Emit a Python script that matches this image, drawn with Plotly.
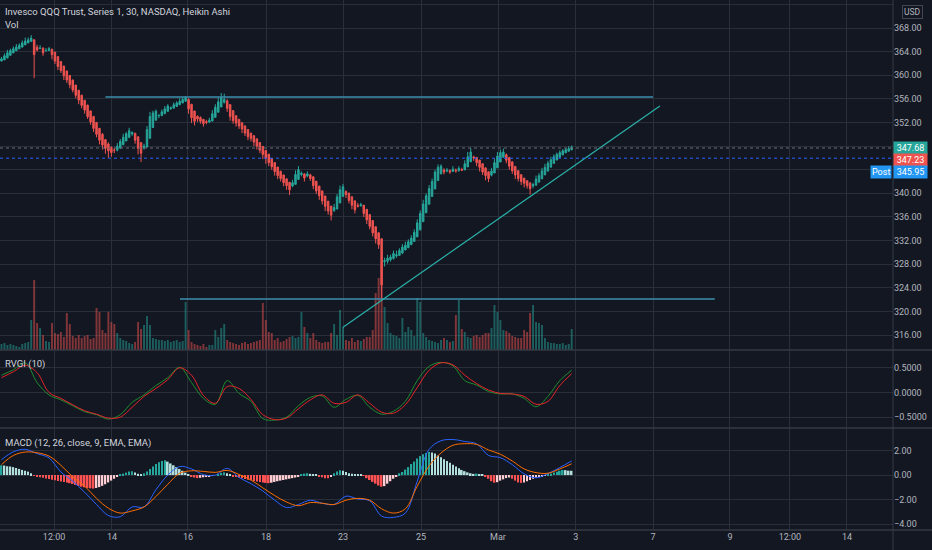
import plotly.graph_objects as go

# QQQ 30 min Heikin Ashi candles, one entry per bar (bar index 0..192)
ha_close = [
    362.8, 363.3, 363.8, 364.2, 364.5, 364.8, 365.1, 365.5, 365.8, 366.0, 366.3,
    363.5,
    364.3, 364.6, 363.8, 364.2, 364.5,
    363.5, 362.4, 361.5, 360.8, 359.9, 359.2, 358.4, 357.5, 356.6, 355.8, 354.9, 354.1, 353.0, 352.1, 351.0, 350.0, 349.0,
    348.2, 347.6, 347.2, 346.9, 347.3,
    348.0, 348.8, 349.5, 350.1, 350.6, 350.3,
    349.0, 347.6, 346.8,
    348.0, 350.8, 353.0,
    353.6, 353.9, 353.2, 353.8, 354.3, 354.8, 354.5, 355.0, 355.3, 355.6, 355.9, 356.2,
    354.3, 352.8, 352.2, 352.6,
    352.2, 351.8, 352.0, 352.4,
    353.5, 354.6, 355.5, 356.2, 355.9,
    354.4, 353.0, 352.3, 351.9, 351.4, 350.9,
    350.2, 349.6, 349.3, 348.7, 348.0, 347.3, 346.6, 346.0,
    345.2, 344.5, 343.7, 343.0, 342.5, 341.8, 341.3, 340.6,
    341.8, 343.2, 344.0,
    343.4, 342.6, 343.3, 342.5,
    341.3, 340.4, 339.6, 338.7, 337.8, 337.0, 336.3,
    337.6, 339.4, 340.6, 341.1,
    339.8, 338.8, 338.0, 337.2,
    337.8, 338.1,
    336.6, 335.5, 334.4, 333.3, 332.3, 331.3,
    324.5,
    328.6, 329.0, 329.2, 329.8, 329.6, 330.3, 330.9, 331.2, 331.8, 332.4,
    333.4, 335.0, 336.6, 338.2, 339.6, 340.8, 342.0,
    343.6, 344.4, 344.6,
    343.6, 343.9, 343.6, 344.1, 343.8, 344.2, 343.9,
    345.0, 346.2, 347.0,
    346.0, 345.2, 344.4, 343.6, 343.0, 342.5,
    343.8, 345.2, 346.3, 346.9, 347.0,
    345.6, 344.6, 343.8, 343.1, 342.5, 342.0, 341.7, 341.3,
    340.8, 341.5,
    342.4, 343.0, 343.8, 344.4, 345.1, 345.7, 346.2,
    346.6, 346.9, 347.2, 347.4, 347.6, 347.8,
]
first_open = 362.4

wick_up = [
    0.3, 0.4, 0.5, 0.3, 0.4, 0.5, 0.3, 0.4, 0.6, 0.4, 0.5,
    0.0,
    0.4, 0.5, 0.2, 0.4, 0.3,
    0.2, 0, 0, 0.1, 0, 0, 0, 0.1, 0, 0, 0, 0, 0.1, 0, 0, 0, 0,
    0.2, 0.1, 0.3, 0.2, 0.4,
    0.5, 0.4, 0.6, 0.3, 0.5, 0.2,
    0.1, 0, 0,
    0.4, 0.6, 0.8,
    0.4, 0.3, 0.2, 0.4, 0.5, 0.3, 0.2, 0.4, 0.3, 0.5, 0.4, 0.3,
    0.2, 0, 0, 0.1,
    0.2, 0.1, 0.3, 0.4,
    0.6, 0.5, 0.7, 0.8, 1.0,
    0.3, 0, 0, 0, 0.1, 0,
    0, 0, 0, 0.1, 0, 0, 0, 0,
    0, 0, 0, 0, 0.1, 0, 0, 0,
    0.5, 0.7, 0.6,
    0.3, 0.1, 0.4, 0.2,
    0, 0, 0, 0, 0, 0, 0,
    0.6, 0.5, 0.7, 0.5,
    0.2, 0, 0, 0.1,
    0.4, 0.3,
    0, 0, 0, 0, 0, 0,
    0,
    0.5, 0.6, 0.4, 0.5, 0.7, 0.4, 0.5, 0.6, 0.4, 0.5,
    0.5, 0.6, 0.5, 0.7, 0.4, 0.6, 0.5,
    0.4, 0.5, 0.3,
    0.3, 0.4, 0.2, 0.5, 0.3, 0.4, 0.3,
    0.6, 0.8, 0.7,
    0.2, 0, 0, 0, 0.1, 0,
    0.5, 0.6, 0.7, 0.5, 0.6,
    0.2, 0, 0, 0, 0, 0, 0, 0,
    0.2, 0.3,
    0.6, 0.4, 0.5, 0.6, 0.4, 0.5, 0.4,
    0.3, 0.4, 0.3, 0.3, 0.4, 0.3,
]
wick_dn = [
    0, 0, 0.1, 0, 0, 0, 0, 0.1, 0, 0, 0,
    4.0,
    0.3, 0.1, 0.5, 0.2, 0.1,
    0.8, 0.5, 0.6, 0.4, 0.7, 0.5, 0.6, 0.4, 0.5, 0.7, 0.5, 0.6, 0.4, 0.5, 0.6, 0.5, 0.7,
    0.8, 0.9, 1.2, 0.7, 0.5,
    0.2, 0.1, 0, 0, 0.1, 0.3,
    0.6, 1.0, 1.5,
    0.3, 0.1, 0,
    0.1, 0, 0.4, 0.1, 0, 0, 0.2, 0, 0, 0, 0, 0.1,
    0.8, 0.9, 0.7, 0.5,
    0.4, 0.5, 0.3, 0.2,
    0, 0, 0, 0, 0.2,
    0.6, 0.7, 0.5, 0.6, 0.5, 0.7,
    0.5, 0.6, 0.5, 0.7, 0.6, 0.5, 0.8, 1.0,
    0.6, 0.5, 0.7, 0.6, 0.5, 0.6, 0.7, 0.9,
    0.2, 0, 0,
    0.3, 0.6, 0.2, 0.4,
    0.6, 0.5, 0.7, 0.6, 0.8, 0.6, 0.9,
    0.2, 0, 0, 0,
    0.6, 0.5, 0.7, 0.6,
    0.2, 0.1,
    0.6, 0.7, 0.5, 0.6, 0.8, 0.7,
    2.7,
    0.8, 0.4, 0.3, 0.2, 0.3, 0.1, 0.2, 0, 0.1, 0,
    0, 0, 0.1, 0, 0, 0, 0,
    0, 0.1, 0,
    0.4, 0.2, 0.3, 0.1, 0.3, 0.2, 0.1,
    0, 0, 0,
    0.5, 0.6, 0.7, 0.5, 0.8, 0.6,
    0.2, 0, 0, 0, 0,
    0.5, 0.6, 0.5, 0.7, 0.5, 0.6, 0.7, 0.5,
    1.0, 0.4,
    0.1, 0, 0, 0, 0, 0, 0,
    0, 0, 0, 0, 0, 0,
]

# volume in millions of shares
volume = [
    0.6, 0.7, 0.5, 0.6, 0.5, 0.4, 0.3, 0.6, 0.7, 0.8, 3.0, 7.0, 2.7, 2.2, 1.5, 0.9, 0.8,
    2.7, 1.7, 1.6, 1.8, 1.3, 3.7, 2.6, 1.4, 1.2, 1.5, 1.2, 1.4, 1.5, 1.1, 1.2, 4.2, 3.8,
    2.0, 1.7, 3.8, 2.8, 2.6, 1.7, 1.2, 1.0, 0.9, 0.7, 0.6, 0.8, 2.8, 2.1, 2.5, 3.4, 2.5,
    1.2, 1.1, 1.0, 1.0, 0.9, 1.0, 0.8, 0.9, 1.0, 0.8, 0.9, 4.8, 2.0, 0.8, 0.6, 0.5, 0.4, 0.6, 0.3, 0.5,
    0.5, 2.0, 1.3, 2.2, 2.6, 1.0, 0.8, 0.7, 0.6, 0.5, 0.7, 0.8, 0.6, 0.7, 0.8, 0.9, 1.0, 4.7, 3.0,
    1.8, 1.7, 1.0, 1.2, 0.8, 0.9, 1.1, 1.3, 1.4, 1.2, 1.3, 3.8, 2.3, 1.7, 1.2,
    1.7, 1.0, 0.8, 0.7, 0.8, 0.8, 1.7, 2.6, 1.5, 4.0, 2.3, 1.0, 0.9, 1.2, 0.8, 1.0, 0.9,
    1.1, 1.3, 1.3, 2.0, 5.7, 7.2, 8.5, 4.3, 2.7, 1.7, 1.5, 1.4, 1.2, 3.2, 1.8, 2.3, 2.0,
    1.4, 5.2, 4.8, 1.7, 1.3, 1.0, 0.9, 0.8, 0.7, 1.0, 1.2, 1.0, 0.8, 0.9, 3.5, 5.0, 2.1,
    1.8, 1.3, 1.2, 1.4, 1.5, 1.3, 1.5, 1.7, 1.7, 2.2, 4.5, 3.8, 3.0, 2.0,
    1.9, 1.7, 1.4, 1.3, 1.2, 1.2, 2.0, 1.8, 3.7, 4.5, 2.8, 2.7, 2.5, 1.2, 0.8, 0.7, 0.7,
    0.6, 0.6, 0.7, 0.5, 0.6, 2.1,
]

macd_hist = [
    0.8, 0.78, 0.72, 0.7, 0.65, 0.58, 0.5, 0.42, 0.35, 0.28, 0.15, -0.05,
    -0.12, -0.18, -0.22, -0.28, -0.32, -0.38, -0.42, -0.48, -0.52, -0.56, -0.6, -0.66, -0.72, -0.8,
    -0.88, -0.95, -1.0, -1.05, -1.08, -1.1,
    -1.05, -0.98, -0.88, -0.75, -0.6, -0.45, -0.3, -0.12,
    0.05, 0.12, 0.2, 0.3, 0.32, 0.2, 0.1, 0.08, 0.15, 0.3,
    0.5, 0.7, 0.9, 1.05, 1.15, 1.2,
    1.1, 0.95, 0.8, 0.65, 0.5, 0.35, 0.2,
    0.08, -0.1, -0.2, -0.25, -0.22, -0.18, -0.12, -0.08, -0.05, 0.0,
    0.1, 0.18, 0.22, 0.15, 0.05,
    -0.08, -0.15, -0.2, -0.26, -0.32, -0.38, -0.42, -0.48, -0.52, -0.56, -0.6, -0.64, -0.66, -0.62,
    -0.56, -0.5, -0.45, -0.4, -0.35, -0.3, -0.25, -0.2,
    -0.1, 0.05, 0.12, 0.15, 0.1, 0.05, 0.02,
    -0.1, -0.18, -0.25, -0.25, -0.15,
    0.15, 0.3, 0.4, 0.35, 0.25, 0.15,
    0.1, 0.08, 0.05, 0.02, -0.05,
    -0.25, -0.4, -0.55, -0.7, -0.85, -0.95, -0.9,
    -0.7, -0.5, -0.3, -0.1,
    0.15, 0.25, 0.45, 0.65, 0.9, 1.1, 1.35, 1.55, 1.7, 1.8, 1.88,
    1.85, 1.75, 1.6, 1.45, 1.3, 1.15, 1.0, 0.85, 0.7, 0.55, 0.42, 0.32, 0.22, 0.15,
    0.1, 0.12, 0.08, 0.02, -0.1,
    -0.3, -0.5, -0.62, -0.58, -0.45, -0.35,
    -0.25, -0.2, -0.3, -0.45,
    -0.6, -0.64, -0.6, -0.5, -0.4,
    -0.3, -0.2, -0.12, -0.08, -0.03,
    0.05, 0.12, 0.2, 0.28, 0.36, 0.42, 0.4, 0.36, 0.35,
]

# indicator lines
line_bars = list(range(0, 193, 4))
rvgi = [0.35, 0.46, 0.6, 0.2, -0.05, -0.15, -0.27, -0.39, -0.45, -0.54,
        -0.45, -0.2, -0.05, 0.14, 0.3, 0.51, 0.2, -0.12, -0.24, 0.24,
        -0.02, -0.18, -0.53, -0.56, -0.5, -0.27, -0.1, -0.07, -0.3, -0.14,
        -0.06, -0.3, -0.44, -0.38, -0.18, 0.24, 0.53, 0.61, 0.54, 0.24,
        0.15, 0.02, -0.03, -0.03, -0.12, -0.29, -0.08, 0.24, 0.45]
rvgi_signal = [0.3, 0.42, 0.55, 0.4, 0.0, -0.12, -0.25, -0.37, -0.44, -0.52,
               -0.5, -0.3, -0.08, 0.08, 0.26, 0.5, 0.35, -0.06, -0.22, 0.12,
               0.08, -0.14, -0.45, -0.55, -0.52, -0.33, -0.15, -0.05, -0.22, -0.2,
               -0.05, -0.22, -0.4, -0.42, -0.25, 0.1, 0.45, 0.6, 0.56, 0.35,
               0.18, 0.05, -0.02, -0.03, -0.08, -0.24, -0.18, 0.14, 0.38]
macd = [1.25, 1.9, 2.1, 1.75, 1.4, 0.25, -0.5, -1.4, -2.4, -3.3,
        -3.4, -2.6, -2.6, -1.2, 0.0, 0.7, 0.5, 0.03, 0.0, 0.55,
        -0.2, -0.7, -1.3, -2.05, -2.65, -2.4, -2.05, -2.3, -2.4, -1.72,
        -1.95, -2.1, -3.35, -3.45, -3.1, -0.5, 2.1, 2.8, 2.9, 2.74,
        2.55, 1.6, 1.42, 0.85, 0.1, -0.22, 0.12, 0.62, 1.15]
macd_signal = [0.85, 1.6, 1.88, 1.82, 1.55, 0.8, -0.15, -0.9, -1.9, -2.7,
               -3.1, -2.92, -2.6, -1.75, -0.75, 0.15, 0.35, 0.3, 0.22, 0.38,
               0.05, -0.4, -1.04, -1.67, -2.2, -2.5, -2.24, -2.3, -2.4, -2.05,
               -1.9, -2.05, -2.75, -3.1, -2.75, -0.9, 0.75, 1.8, 2.43, 2.56,
               2.5, 2.05, 1.7, 1.15, 0.5, 0.2, 0.15, 0.5, 0.92]

# drawings
resistance_price = 356.3
resistance_bars = [35, 219.4]
support_price = 322.1
support_bars = [60.1, 240.2]
trend_bars = [115, 221.7]
trend_prices = [317.3, 354.8]

last_price = 347.68
prev_close = 347.23
post_price = 345.95

date_ticks = [17.7, 37.2, 62.8, 89.1, 115.0, 141.3, 167.2, 193.4, 219.4, 245.3, 265.5, 284.7]
date_labels = ["12:00", "14", "16", "18", "23", "25", "Mar", "3", "7", "9", "12:00", "14"]
price_ticks = list(range(316, 373, 4))
hidden_ticks = [344, 348]  # covered by the price tags

assert len(ha_close) == len(wick_up) == len(wick_dn) == len(volume) == len(macd_hist) == 193
assert len(rvgi) == len(rvgi_signal) == len(macd) == len(macd_signal) == len(line_bars)

UP = "#26a69a"
DOWN = "#ef5350"
BG = "#131722"
GRID = "#2a2e39"
SEP = "#363a45"
TEXT = "#b2b5be"
FONT = "Roboto, sans-serif"

bars = list(range(len(ha_close)))
ha_open = [first_open]
for i in range(1, len(ha_close)):
    ha_open.append((ha_open[-1] + ha_close[i - 1]) / 2)
ha_high = [max(o, c) + w for o, c, w in zip(ha_open, ha_close, wick_up)]
ha_low = [min(o, c) - w for o, c, w in zip(ha_open, ha_close, wick_dn)]
vol_colors = ["rgba(38,166,154,0.5)" if c >= o else "rgba(239,83,80,0.5)"
              for o, c in zip(ha_open, ha_close)]

hist_colors = []
prev = 0
for h in macd_hist:
    if h >= 0:
        hist_colors.append("#26a69a" if h > prev else "#b2dfdb")
    else:
        hist_colors.append("#ffcdd2" if h > prev else "#ff5252")
    prev = h

fig = go.Figure()

# volume (base axis, drawn under the candles)
fig.add_trace(go.Bar(x=bars, y=volume, marker=dict(color=vol_colors, line=dict(width=0)),
                     width=0.65, xaxis="x", yaxis="y"))

fig.add_trace(go.Candlestick(
    x=bars, open=ha_open, high=ha_high, low=ha_low, close=ha_close,
    xaxis="x", yaxis="y2", whiskerwidth=0,
    increasing=dict(line=dict(color=UP, width=1), fillcolor=UP),
    decreasing=dict(line=dict(color=DOWN, width=1), fillcolor=DOWN),
))

# drawn lines
fig.add_trace(go.Scatter(x=resistance_bars, y=[resistance_price] * 2, mode="lines",
                         line=dict(color="#3c8fae", width=1.5), xaxis="x", yaxis="y2"))
fig.add_trace(go.Scatter(x=support_bars, y=[support_price] * 2, mode="lines",
                         line=dict(color="#3c8fae", width=1.5), xaxis="x", yaxis="y2"))
fig.add_trace(go.Scatter(x=trend_bars, y=trend_prices, mode="lines",
                         line=dict(color="#2ab0a8", width=1.2), xaxis="x", yaxis="y2"))

# RVGI
fig.add_trace(go.Scatter(x=line_bars, y=rvgi, mode="lines", line=dict(color="#1e8c2e", width=1, shape="spline"),
                         xaxis="x", yaxis="y3"))
fig.add_trace(go.Scatter(x=line_bars, y=rvgi_signal, mode="lines", line=dict(color="#e8242a", width=1, shape="spline"),
                         xaxis="x", yaxis="y3"))

# MACD
fig.add_trace(go.Bar(x=bars, y=macd_hist, marker=dict(color=hist_colors, line=dict(width=0)),
                     width=0.55, xaxis="x", yaxis="y4"))
fig.add_trace(go.Scatter(x=line_bars, y=macd, mode="lines", line=dict(color="#2962ff", width=1, shape="spline"),
                         xaxis="x", yaxis="y4"))
fig.add_trace(go.Scatter(x=line_bars, y=macd_signal, mode="lines", line=dict(color="#ff6d00", width=1, shape="spline"),
                         xaxis="x", yaxis="y4"))

tick_font = dict(family=FONT, size=9, color=TEXT)
common_y = dict(side="right", showgrid=True, gridcolor=GRID, zeroline=False, ticks="",
                showline=False, tickfont=tick_font, fixedrange=True, automargin=False)

fig.update_layout(
    width=932, height=550,
    margin=dict(l=0, r=39, t=0, b=20, autoexpand=False),
    paper_bgcolor=BG, plot_bgcolor=BG,
    showlegend=False, hovermode=False, barmode="overlay",
    font=dict(family=FONT, size=9, color=TEXT),
    xaxis=dict(range=[-0.5, 300.2], tickvals=date_ticks, ticktext=date_labels,
               showgrid=True, gridcolor=GRID, zeroline=False, ticks="", showline=False,
               anchor="y4", rangeslider=dict(visible=False), tickfont=tick_font, automargin=False),
    yaxis=dict(domain=[0.3396, 1], range=[0, 35], visible=False, showgrid=False),
    yaxis2=dict(overlaying="y", range=[313.46, 372.75], tickvals=price_ticks,
                ticktext=["" if v in hidden_ticks else f"{v:.2f}" for v in price_ticks],
                anchor="x", **common_y),
    yaxis3=dict(domain=[0.1925, 0.3377], range=[-0.72, 0.84], tickvals=[0.5, 0, -0.5],
                ticktext=["0.5000", "0.0000", "\u22120.5000"], anchor="x", **common_y),
    yaxis4=dict(domain=[0, 0.1906], range=[-4.48, 3.76], tickvals=[2, 0, -2, -4],
                ticktext=["2.00", "0.00", "\u22122.00", "\u22124.00"], anchor="x", **common_y),
)

shapes = []
# panel separators and axis borders
for yy in [0.3396, 0.1925, 0]:
    shapes.append(dict(type="line", xref="paper", yref="paper", x0=0, x1=1.05, y0=yy, y1=yy,
                       line=dict(color=SEP, width=1.5)))
shapes.append(dict(type="line", xref="paper", yref="paper", x0=1, x1=1, y0=-0.04, y1=1,
                   line=dict(color=SEP, width=1)))
# price lines
shapes.append(dict(type="line", xref="paper", yref="y2", x0=0, x1=1, y0=last_price, y1=last_price,
                   line=dict(color="#6a6d78", width=1, dash="dot")))
shapes.append(dict(type="line", xref="paper", yref="y2", x0=0, x1=1, y0=post_price, y1=post_price,
                   line=dict(color="#2962ff", width=1, dash="dot")))
fig.update_layout(shapes=shapes)

label_font = dict(family=FONT, size=9.5, color="#d1d4dc")
annotations = [
    dict(text="Invesco QQQ Trust, Series 1, 30, NASDAQ, Heikin Ashi", xref="paper", yref="paper",
         x=0, y=1, xanchor="left", yanchor="top", xshift=3, yshift=-4, showarrow=False, font=label_font),
    dict(text="Vol", xref="paper", yref="paper", x=0, y=1, xanchor="left", yanchor="top",
         xshift=3, yshift=-17, showarrow=False, font=label_font),
    dict(text="RVGI (10)", xref="paper", yref="paper", x=0, y=0.3377, xanchor="left", yanchor="top",
         xshift=3, yshift=-5, showarrow=False, font=label_font),
    dict(text="MACD (12, 26, close, 9, EMA, EMA)", xref="paper", yref="paper", x=0, y=0.1906,
         xanchor="left", yanchor="top", xshift=3, yshift=-6, showarrow=False, font=label_font),
    dict(text="USD", xref="paper", yref="paper", x=1, y=1, xanchor="left", yanchor="top",
         xshift=9, yshift=-5, showarrow=False, bgcolor=BG, bordercolor="#434651", borderwidth=1,
         borderpad=1, font=dict(family=FONT, size=8.5, color=TEXT)),
]
for price, color, shift in [(last_price, UP, 0), (prev_close, DOWN, -9.5), (post_price, "#2196f3", -14)]:
    annotations.append(dict(text=f"{price:.2f}", xref="paper", yref="y2", x=1, y=price,
                            xanchor="left", yanchor="middle", yshift=shift, showarrow=False,
                            bgcolor=color, width=31, borderpad=1,
                            font=dict(family=FONT, size=9, color="white")))
annotations.append(dict(text="Post", xref="paper", yref="y2", x=1, y=post_price, xanchor="right",
                        yanchor="middle", yshift=-14, xshift=-1, showarrow=False, bgcolor="#2196f3",
                        borderpad=1, font=dict(family=FONT, size=9, color="white")))
fig.update_layout(annotations=annotations)

# the default page body has an 8px margin; drop it so the figure fills the window
fig.write_html("out.html", config={"displayModeBar": False},
               post_script="document.body.style.margin = '0';")
